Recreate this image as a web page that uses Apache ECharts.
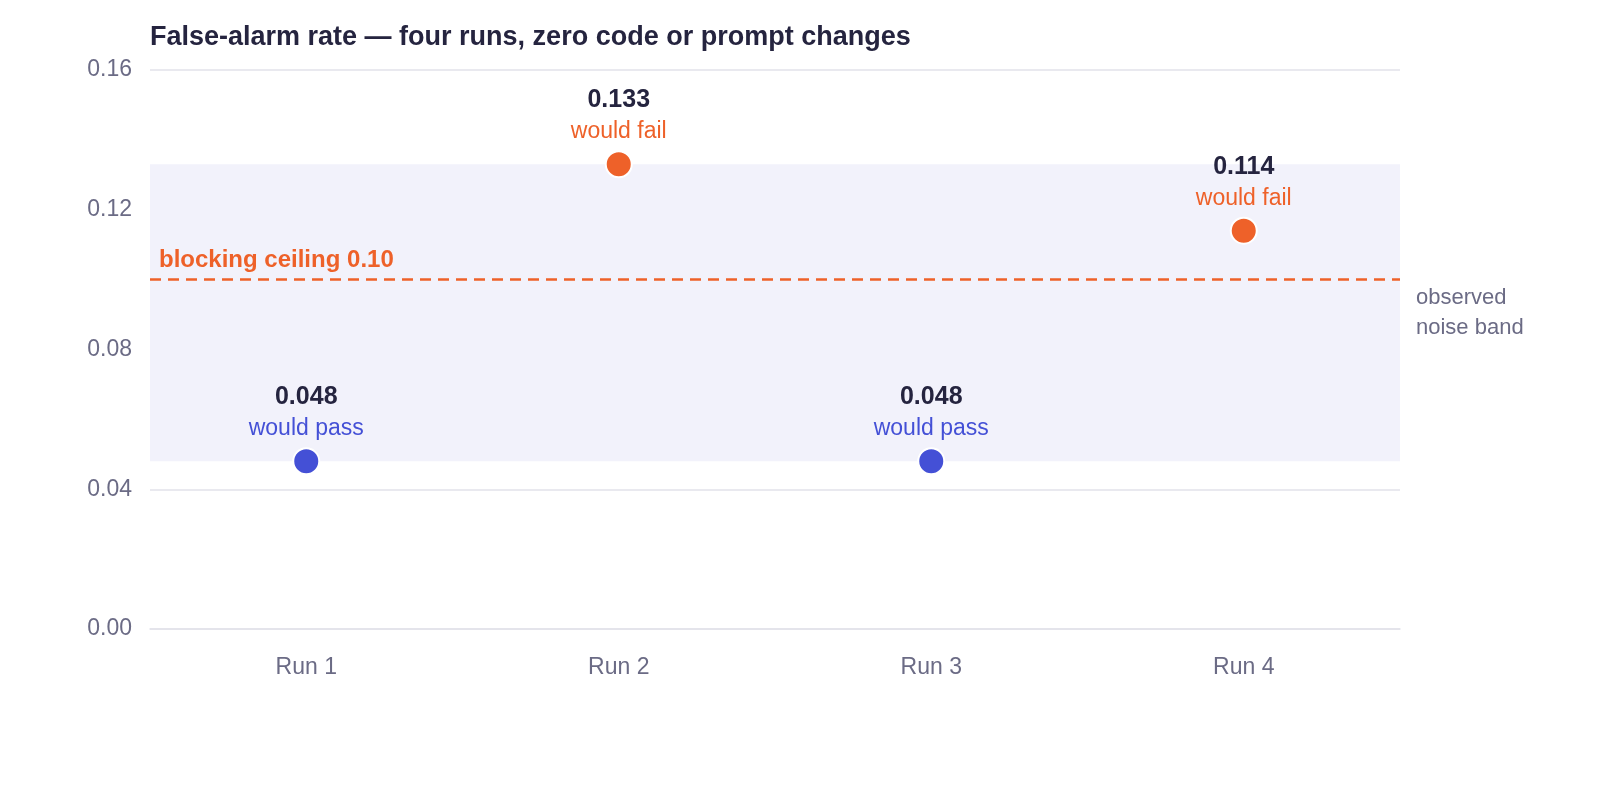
<!DOCTYPE html>
<html>
<head>
<meta charset="utf-8">
<script src="https://cdn.jsdelivr.net/npm/echarts@6/dist/echarts.min.js"></script>
<style>html,body{margin:0;padding:0;background:#fff}#c{width:1600px;height:800px}</style>
</head>
<body>
<div id="c"></div>
<script>
const categories = ['Run 1', 'Run 2', 'Run 3', 'Run 4'];
const rates = [0.048, 0.133, 0.048, 0.114];
const verdicts = ['would pass', 'would fail', 'would pass', 'would fail'];
const ceiling = 0.10;
const bandLow = 0.048, bandHigh = 0.133;
const yTicks = { min: 0, max: 0.16, interval: 0.04 };

const BLUE = '#4450d6', ORANGE = '#ee6129', INK = '#25243f', MUTED = '#6b6b85';
const font = '"Liberation Sans", Arial, sans-serif';

const chart = echarts.init(document.getElementById('c'));
chart.setOption({
  animation: false,
  textStyle: { fontFamily: font },
  title: {
    text: 'False-alarm rate — four runs, zero code or prompt changes',
    left: 150, top: 24, padding: 0,
    textStyle: { fontSize: 27, fontWeight: 'bold', color: INK, fontFamily: font }
  },
  grid: { left: 150, right: 200, top: 70, bottom: 171 },
  xAxis: {
    type: 'category', data: categories,
    axisLine: { show: true, lineStyle: { color: '#e2e2ea', width: 1.5 } },
    axisTick: { show: false },
    axisLabel: { color: MUTED, fontSize: 23, margin: 27, fontFamily: font }
  },
  yAxis: {
    type: 'value', min: yTicks.min, max: yTicks.max, interval: yTicks.interval,
    axisLine: { show: false }, axisTick: { show: false },
    splitLine: { lineStyle: { color: '#e2e2ea', width: 1.5 } },
    axisLabel: { color: MUTED, fontSize: 23, margin: 18, fontFamily: font,
      formatter: v => v.toFixed(2) }
  },
  series: [{
    type: 'scatter',
    symbolSize: 26,
    data: rates.map((v, i) => ({
      value: v,
      itemStyle: { color: v > ceiling ? ORANGE : BLUE, borderColor: '#fff', borderWidth: 2, opacity: 1 },
      label: {
        show: true, position: 'top', distance: 3,
        formatter: '{v|' + v.toFixed(3) + '}\n{s|' + verdicts[i] + '}',
        rich: {
          v: { fontSize: 25, fontWeight: 'bold', color: INK, lineHeight: 32, fontFamily: font },
          s: { fontSize: 23, color: v > ceiling ? ORANGE : BLUE, lineHeight: 31, fontFamily: font }
        }
      }
    })),
    z: 5,
    markArea: {
      silent: true,
      itemStyle: { color: '#f2f2fb' },
      label: {
        show: true, position: 'right', distance: 16,
        color: MUTED, fontSize: 22, lineHeight: 30, fontFamily: font,
        formatter: 'observed\nnoise band'
      },
      data: [[{ yAxis: bandLow }, { yAxis: bandHigh }]]
    },
    markLine: {
      silent: true, symbol: 'none',
      lineStyle: { color: ORANGE, type: [11, 7], width: 2.5 },
      label: {
        show: true, position: 'insideStartTop', distance: [9, 7],
        formatter: 'blocking ceiling 0.10',
        color: ORANGE, fontSize: 24, fontWeight: 'bold', fontFamily: font
      },
      data: [{ yAxis: ceiling }]
    }
  }]
});
</script>
</body>
</html>
